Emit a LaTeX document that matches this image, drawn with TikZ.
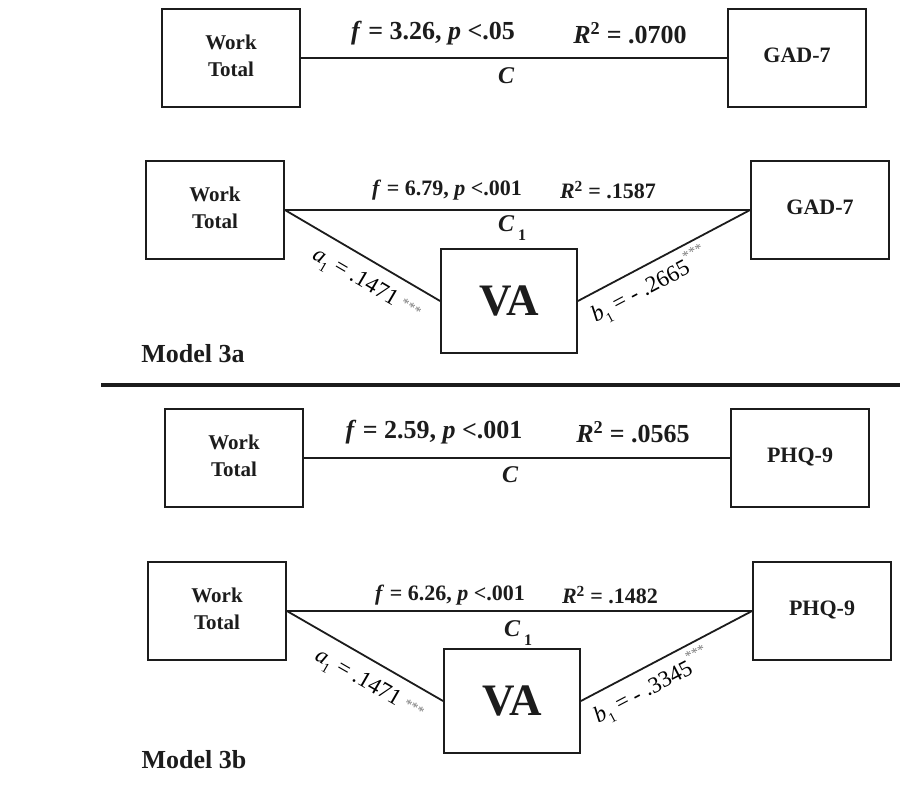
\documentclass[tikz,border=0pt]{standalone}
\usepackage{fontspec}
\setmainfont{Liberation Serif}
\newcommand{\myfs}[2]{\fontsize{#1}{#2}\selectfont}
\newcommand{\subone}{\raisebox{-0.3em}{\myfs{14}{14}1}}
\newcommand{\worktotal}[1]{\raisebox{#1}{\begin{tabular}{@{}c@{}}Work\\Total\end{tabular}}}
\definecolor{ink}{HTML}{1C1C1C}
\definecolor{stargray}{HTML}{7A7A7A}
\tikzset{
  box/.style={draw=ink, line width=1.8pt, minimum width=138pt, minimum height=98pt,
    inner sep=0pt, text=ink, font=\myfs{21}{27}\bfseries},
  outbox/.style={box, font=\myfs{22}{26}\bfseries},
  vabox/.style={draw=ink, line width=1.8pt, minimum width=136pt, minimum height=104pt,
    inner sep=0pt, text=ink, font=\myfs{45}{45}\bfseries},
  conn/.style={draw=ink, line width=1.8pt},
  bigstat/.style={text=ink, inner sep=0pt, font=\myfs{26}{26}\bfseries},
  smallstat/.style={text=ink, inner sep=0pt, font=\myfs{22}{22}\bfseries},
  cpath/.style={text=ink, inner sep=0pt, font=\myfs{24}{24}\bfseries\itshape},
  coef/.style={text=black, inner sep=0pt, font=\myfs{23}{23}},
  modeltitle/.style={text=ink, inner sep=0pt, font=\myfs{26}{26}\bfseries},
}
\begin{document}
\begin{tikzpicture}[x=1pt,y=-1pt]
\useasboundingbox[fill=white] (0,0) rectangle (900,789);

% ---------- Panel 1 ----------
\node[box] (wt1) at (231,58) {\worktotal{4pt}};
\node[outbox] (gad1) at (797,58) {\raisebox{5pt}{GAD-7}};
\draw[conn] (wt1) -- (gad1);
\node[bigstat] (f1) at (433,33) {\textit{f} = 3.26, \textit{p} <.05};
\node[bigstat] (r1) at (630,33) {\textit{R}\textsuperscript{2} = .0700};
\node[cpath] (c1) at (506,76) {C};

% ---------- Panel 2 ----------
\node[box] (wt2) at (215,210) {\worktotal{4pt}};
\node[outbox] (gad2) at (820,210) {\raisebox{5pt}{GAD-7}};
\node[vabox] (va2) at (509,301) {VA};
\draw[conn] (wt2) -- (gad2);
\draw[conn] (wt2.east) -- node[coef, sloped, pos=0.6, below=12pt]
  {\textit{a}\subone{} = .1471 \raisebox{0.15em}{\color{stargray}\myfs{14}{14}***}} (va2.west);
\draw[conn] (va2.east) -- node[coef, sloped, pos=0.36, below=5pt]
  {\textit{b}\subone{} = - .2665\raisebox{0.55em}{\color{stargray}\myfs{14}{14}***}} (gad2.west);
\node[smallstat] (f2) at (447,190) {\textit{f} = 6.79, \textit{p} <.001};
\node[smallstat] (r2) at (608,190) {\textit{R}\textsuperscript{2} = .1587};
\node[cpath] (c2) at (512,228) {C\,\raisebox{-0.35em}{\upshape\myfs{16}{16}1}};
\node[modeltitle] (m3a) at (193,354) {Model 3a};

% ---------- separator ----------
\coordinate (s1) at (101,385);
\coordinate (s2) at (900,385);
\draw[draw=ink, line width=4pt] (s1) -- (s2);

% ---------- Panel 3 ----------
\node[box] (wt3) at (234,458) {\worktotal{3pt}};
\node[outbox] (phq3) at (800,458) {\raisebox{5pt}{PHQ-9}};
\draw[conn] (wt3) -- (phq3);
\node[bigstat] (f3) at (434,432) {\textit{f} = 2.59, \textit{p} <.001};
\node[bigstat] (r3) at (633,432) {\textit{R}\textsuperscript{2} = .0565};
\node[cpath] (c3) at (510,475) {C};

% ---------- Panel 4 ----------
\node[box] (wt4) at (217,611) {\worktotal{3pt}};
\node[outbox] (phq4) at (822,611) {\raisebox{6pt}{PHQ-9}};
\node[vabox] (va4) at (512,701) {VA};
\draw[conn] (wt4) -- (phq4);
\draw[conn] (wt4.east) -- node[coef, sloped, pos=0.6, below=12pt]
  {\textit{a}\subone{} = .1471 \raisebox{0.15em}{\color{stargray}\myfs{14}{14}***}} (va4.west);
\draw[conn] (va4.east) -- node[coef, sloped, pos=0.36, below=5pt]
  {\textit{b}\subone{} = - .3345\raisebox{0.55em}{\color{stargray}\myfs{14}{14}***}} (phq4.west);
\node[smallstat] (f4) at (450,595) {\textit{f} = 6.26, \textit{p} <.001};
\node[smallstat] (r4) at (610,595) {\textit{R}\textsuperscript{2} = .1482};
\node[cpath] (c4) at (518,633) {C\,\raisebox{-0.35em}{\upshape\myfs{16}{16}1}};
\node[modeltitle] (m3b) at (194,760) {Model 3b};
\end{tikzpicture}
\end{document}
